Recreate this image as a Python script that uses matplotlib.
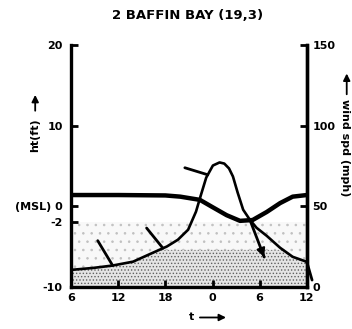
import numpy as np
import matplotlib.pyplot as plt

# hours since start (6 -> 36, labelled 6 12 18 0 6 12)
ht_hours = [6, 12, 18, 19.9, 22.4, 24.0, 25.8, 27.5, 29.1, 30.9, 32.6, 34.2, 36]
ht_ft = [1.4, 1.4, 1.35, 1.2, 0.8, -0.1, -1.1, -1.8, -1.7, -0.7, 0.4, 1.2, 1.4]

wind_hours = [6, 8.8, 11.3, 13.9, 16.4, 18.2, 19.6, 20.9, 21.9, 22.5, 23.2, 24.05, 24.9,
              25.5, 26.1, 26.6, 27.2, 27.9, 28.75, 29.6, 30.9, 32.6, 34.2, 36]
wind_mph = [10.6, 11.8, 13.3, 15.7, 21.2, 25.1, 29.3, 35.5, 46.7, 56.6, 67.8, 75.3, 77.2,
            76.5, 73.5, 68.5, 58.5, 47.9, 41.7, 36.7, 31.7, 24.3, 18.7, 15.6]

# wind direction sticks along the wind curve
barb_hours = [11.3, 17.7, 23.4, 28.75, 36.0]
barb_angle = [121, 129, 163, -69, -74]
barb_len = [29, 26, 24, 40, 19]
barb_arrow = [False, False, False, True, False]

xticks = [6, 12, 18, 24, 30, 36]
xtick_labels = ['6', '12', '18', '0', '6', '12']
lticks = [-10, -2, 0, 10, 20]
ltick_labels = ['-10', '-2', '(MSL) 0', '10', '20']
rticks = [0, 50, 100, 150]

plt.rcParams['font.family'] = 'DejaVu Sans'
plt.rcParams['font.weight'] = 'bold'
plt.rcParams['hatch.linewidth'] = 0.6

fig = plt.figure(figsize=(3.52, 3.29), dpi=100)
ax = fig.add_axes([0.2017, 0.1277, 0.670, 0.7355])
ax2 = ax.twinx()

ax.set_xlim(6, 36)
ax.set_ylim(-10, 20)
ax2.set_ylim(0, 150)

# stippled ground
hh = np.linspace(6, 36, 300)
w_ht = (np.interp(hh, wind_hours, wind_mph) - 50) / 5.0
ax.fill_between(hh, -10, -2, facecolor='#f8f8f8', edgecolor='#c0c0c0', hatch='..', lw=0)
ax.fill_between(hh, -10, np.minimum(w_ht, -5.4), facecolor='#e4e4e4', edgecolor='#606060',
                hatch='.....', lw=0)

ax.plot(ht_hours, ht_ft, color='black', lw=3.2, solid_capstyle='butt')
ax2.plot(wind_hours, wind_mph, color='black', lw=1.9)

for h, a, L, arr in zip(barb_hours, barb_angle, barb_len, barb_arrow):
    base = np.interp(h, wind_hours, wind_mph)
    dx = L * np.cos(np.radians(a))
    dy = L * np.sin(np.radians(a))
    ax2.annotate('', xy=(h, base), xycoords='data',
                 xytext=(dx, dy), textcoords='offset pixels',
                 arrowprops=dict(arrowstyle='-', lw=2, color='black',
                                 shrinkA=0, shrinkB=0))
    if arr:
        bx, by = ax2.transData.transform((h, base))
        tip = (bx + dx, by + dy)
        start = (bx + dx * 0.75, by + dy * 0.75)
        ax2.annotate('', xy=tip, xycoords='figure pixels', xytext=start,
                     textcoords='figure pixels',
                     arrowprops=dict(arrowstyle='-|>,head_width=0.25,head_length=0.5',
                                     lw=1.5, color='black', shrinkA=0, shrinkB=0))

for s in ['left', 'right', 'bottom']:
    ax.spines[s].set_linewidth(2.4)
ax.spines['top'].set_visible(False)
ax2.spines['top'].set_visible(False)
ax2.spines['left'].set_visible(False)
ax2.spines['bottom'].set_visible(False)
ax2.spines['right'].set_linewidth(2.4)

ax.set_xticks(xticks)
ax.set_xticklabels(xtick_labels, fontsize=8, fontweight='bold')
ax.set_yticks(lticks)
ax.set_yticklabels(ltick_labels, fontsize=8, fontweight='bold')
ax2.set_yticks(rticks)
ax2.set_yticklabels([str(v) for v in rticks], fontsize=8, fontweight='bold')
ax.tick_params(axis='y', direction='in', length=5, width=2, pad=6)
ax.tick_params(axis='x', direction='in', length=5, width=2, pad=4)
ax2.tick_params(axis='y', direction='in', length=5, width=2, pad=4)

fig.text(0.534, 0.954, '2 BAFFIN BAY (19,3)', ha='center', va='center',
         fontsize=9.5, fontweight='bold')

# axis labels with arrows
fig.text(0.10, 0.59, 'ht(ft)', rotation=90, ha='center', va='center',
         fontsize=8, fontweight='bold')
fig.text(0.98, 0.55, 'wind spd (mph)', rotation=270, ha='center', va='center',
         fontsize=8, fontweight='bold')
fig.text(0.545, 0.035, 't', ha='center', va='center', fontsize=8, fontweight='bold')
ap = dict(arrowstyle='-|>,head_width=0.2,head_length=0.4', lw=1.3, color='black')
fig.add_artist(plt.Annotation('', xy=(0.10, 0.72), xycoords='figure fraction',
                              xytext=(0.10, 0.655), textcoords='figure fraction',
                              arrowprops=ap))
fig.add_artist(plt.Annotation('', xy=(0.985, 0.785), xycoords='figure fraction',
                              xytext=(0.985, 0.705), textcoords='figure fraction',
                              arrowprops=ap))
fig.add_artist(plt.Annotation('', xy=(0.65, 0.035), xycoords='figure fraction',
                              xytext=(0.56, 0.035), textcoords='figure fraction',
                              arrowprops=ap))

fig.savefig('out.png', dpi=100)
